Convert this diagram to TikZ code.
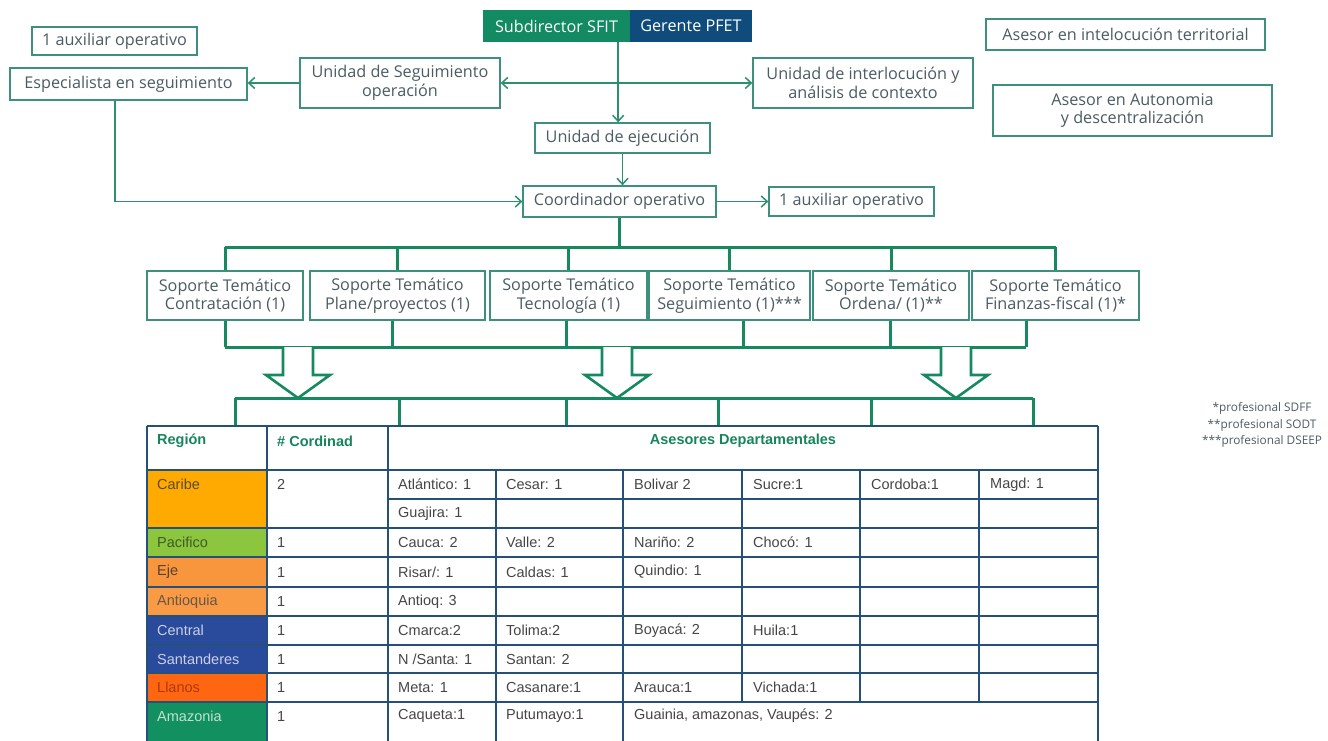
\documentclass[tikz,border=0pt]{standalone}
\usepackage{fontspec}
\setmainfont{Open Sans}
\newfontfamily\tablefont{Liberation Sans}
\usetikzlibrary{arrows.meta,calc}

% palette
\definecolor{boxline}{HTML}{3E8F7B}
\definecolor{boxtext}{HTML}{4B5C62}
\definecolor{linkgreen}{HTML}{2A9070}
\definecolor{busgreen}{HTML}{17895F}
\definecolor{sfitgreen}{HTML}{128A62}
\definecolor{pfetblue}{HTML}{0F4C7C}
\definecolor{gridblue}{HTML}{24507A}
\definecolor{headgreen}{HTML}{17855C}
\definecolor{celltext}{HTML}{454545}
\definecolor{caribe}{HTML}{FFAA00}
\definecolor{pacifico}{HTML}{8CC63E}
\definecolor{eje}{HTML}{F7963C}
\definecolor{antioq}{HTML}{F99B45}
\definecolor{central}{HTML}{2A4B9B}
\definecolor{llanos}{HTML}{FF6611}
\definecolor{amaz}{HTML}{13905F}

\newcommand\bxfont{\fontsize{16.2}{18.5}\selectfont}
\newcommand\cellfont{\tablefont\fontsize{14.5}{16}\selectfont}
\newcommand\tc[4]{\node[cell] (#1) at (#2,#3) {#4};}

\begin{document}
\begin{tikzpicture}[x=1pt,y=-1pt,
  box/.style={draw=boxline, line width=1.3pt, fill=white, text=boxtext,
    font=\bxfont, align=center, inner sep=0pt},
  topcell/.style={text=white, font=\bxfont, inner sep=0pt,
    minimum height=32pt},
  link/.style={draw=linkgreen, line width=1.5pt},
  arr/.style={link, -{Straight Barb[length=6pt,width=11pt]}},
  dblarr/.style={link, {Straight Barb[length=6pt,width=11pt]}-{Straight Barb[length=6pt,width=11pt]}},
  bus/.style={draw=busgreen, line width=3pt},
  blk/.style={draw=busgreen, line width=2.6pt, fill=white, line join=miter},
  grid/.style={draw=gridblue, line width=1.3pt},
  cell/.style={anchor=west, font=\cellfont, text=celltext, inner sep=0pt},
  head/.style={cell, font=\cellfont\bfseries, text=headgreen},
  blockdown/.pic={\draw[blk] (-15,0) -- (-15,28) -- (-32,28) -- (0,51)
    -- (32,28) -- (15,28) -- (15,0);}
]
\useasboundingbox (0,0) rectangle (1328,740);
\clip (0,0) rectangle (1328,740);

% ---------- upper organisation chart ----------
\node[topcell, fill=sfitgreen, minimum width=147pt] (sub) at (556.5,26) {Subdirector SFIT};
\node[topcell, fill=pfetblue, minimum width=122pt] (ger) at (691,26) {Gerente PFET};

\node[box, minimum width=165pt, minimum height=28pt] (aux1) at (114.5,41) {1 auxiliar operativo};
\node[box, minimum width=237pt, minimum height=32pt] (esp) at (128.5,84) {Especialista en seguimiento};
\node[box, minimum width=200pt, minimum height=50pt] (useg) at (400,83) {Unidad de Seguimiento\\operación};
\node[box, minimum width=220pt, minimum height=50pt] (uint) at (863,83) {Unidad de interlocución y\\análisis de contexto};
\node[box, minimum width=175pt, minimum height=30pt] (ejec) at (622.5,138) {Unidad de ejecución};
\node[box, minimum width=193pt, minimum height=31pt] (coord) at (619.5,201.5) {Coordinador operativo};
\node[box, minimum width=165pt, minimum height=29pt] (aux2) at (851.5,201.5) {1 auxiliar operativo};
\node[box, minimum width=279pt, minimum height=31pt] (ases1) at (1125.5,34.5) {Asesor en intelocución territorial};
\node[box, minimum width=279pt, minimum height=51pt] (ases2) at (1132.5,110.5) {Asesor en Autonomia\\y descentralización};

\coordinate (drop) at ($(sub.south east)+(-12,0)$);
\draw[arr] (drop) -- (drop |- ejec.north);
\draw[dblarr] (useg.east) -- (uint.west);
\draw[arr] (useg.west) -- (useg.west -| esp.east);
\draw[arr] (ejec.south) -- (ejec.south |- coord.north);
\draw[arr] ([xshift=-13.5pt]esp.south) |- (coord.west);
\draw[arr] (coord.east) -- (coord.east -| aux2.west);

% ---------- thematic support row ----------
\node[box, minimum width=156pt, minimum height=49pt] (s1) at (225,295.5) {Soporte Temático\\Contratación (1)};
\node[box, minimum width=175pt, minimum height=49pt] (s2) at (397.5,295.5) {Soporte Temático\\Plane/proyectos (1)};
\node[box, minimum width=157pt, minimum height=49pt] (s3) at (568.5,295.5) {Soporte Temático\\Tecnología (1)};
\node[box, minimum width=161pt, minimum height=49pt] (s4) at (729.5,295.5) {Soporte Temático\\Seguimiento (1)***};
\node[box, minimum width=156pt, minimum height=49pt] (s5) at (891,295.5) {Soporte Temático\\Ordena/ (1)**};
\node[box, minimum width=167pt, minimum height=49pt] (s6) at (1055.5,295.5) {Soporte Temático\\Finanzas-fiscal (1)*};

\coordinate (busA) at (0,247);
\coordinate (busB) at (0,347);

% bus above the support boxes
\draw[bus] (s1.north |- busA) -- (s6.north |- busA);
\draw[bus] (coord.south) -- (coord.south |- busA);
\foreach \s in {s1,s2,s3,s4,s5,s6}
  \draw[bus] (\s.north |- busA) -- (\s.north);

% bus below the support boxes
\draw[bus] (s1.south |- busB) -- ([xshift=-29.5pt]s6.south |- busB);
\foreach \s/\dx in {s1/0,s2/-5.5,s3/-2.5,s4/13.5,s5/-1,s6/-29.5}
  \draw[bus] ([xshift=\dx pt]\s.south) -- ([xshift=\dx pt]\s.south |- busB);

% hollow arrows down to the table
\pic (ba1) at (298,347) {blockdown};
\pic (ba2) at (617,347) {blockdown};
\pic (ba3) at (956,347) {blockdown};

% bus over the table
\coordinate (cl) at (235,398);
\coordinate (cr) at (1033,398);
\draw[bus] (cl) -- (cr);
\foreach \x in {235,399,566,718,871,1033}
  \draw[bus] (\x,398) -- (\x,426);

% ---------- footnotes ----------
\node[align=center, text=boxtext, font=\fontsize{11.8}{16.5}\selectfont, inner sep=0pt]
  (notes) at (1262,425) {*profesional SDFF\\**profesional SODT\\***profesional DSEEP};

% ---------- regional table ----------
\fill[caribe]   (147,470) rectangle (267,528);
\fill[pacifico] (147,528) rectangle (267,557);
\fill[eje]      (147,557) rectangle (267,587);
\fill[antioq]   (147,587) rectangle (267,616);
\fill[central]  (147,616) rectangle (267,673);
\fill[llanos]   (147,673) rectangle (267,702);
\fill[amaz]     (147,702) rectangle (267,745);

\foreach \y in {426,470,528,557,587,616,645,673,702}
  \draw[grid] (147,\y) -- (1098,\y);
\draw[grid] (388,499) -- (1098,499);
\foreach \x in {147,267,388,1098}
  \draw[grid] (\x,426) -- (\x,745);
\foreach \x in {496,623}
  \draw[grid] (\x,470) -- (\x,745);
\foreach \x in {742,860,979}
  \draw[grid] (\x,470) -- (\x,702);

\node[head] (hreg) at (157,441) {Región};
\node[head] (hcor) at (277,441) {\# Cordinad};
\node[head, anchor=center] (hase) at (743,441) {Asesores Departamentales};

\tc{rcar}{157}{484.5}{\textcolor[HTML]{5A4A30}{Caribe}}
\tc{ncar}{277}{484.5}{2}
\tc{atl}{398}{484.5}{Atlántico: 1}
\tc{ces}{506}{484.5}{Cesar: 1}
\tc{bol}{634}{484.5}{Bolivar 2}
\tc{suc}{753}{484.5}{Sucre:1}
\tc{cor}{871}{484.5}{Cordoba:1}
\tc{mag}{990}{484.5}{Magd: 1}
\tc{gua}{398}{513.5}{Guajira: 1}

\tc{rpac}{157}{542.5}{\textcolor[HTML]{3F5A2A}{Pacifico}}
\tc{npac}{277}{542.5}{1}
\tc{cau}{398}{542.5}{Cauca: 2}
\tc{val}{506}{542.5}{Valle: 2}
\tc{nar}{634}{542.5}{Nariño: 2}
\tc{cho}{753}{542.5}{Chocó: 1}

\tc{reje}{157}{572}{\textcolor[HTML]{5A4030}{Eje}}
\tc{neje}{277}{572}{1}
\tc{ris}{398}{572}{Risar/: 1}
\tc{cal}{506}{572}{Caldas: 1}
\tc{qui}{634}{572}{Quindio: 1}

\tc{rant}{157}{601.5}{\textcolor[HTML]{6A5548}{Antioquia}}
\tc{nant}{277}{601.5}{1}
\tc{ant}{398}{601.5}{Antioq: 3}

\tc{rcen}{157}{630.5}{\textcolor[HTML]{C8D0E8}{Central}}
\tc{ncen}{277}{630.5}{1}
\tc{cma}{398}{630.5}{Cmarca:2}
\tc{tol}{506}{630.5}{Tolima:2}
\tc{boy}{634}{630.5}{Boyacá: 2}
\tc{hui}{753}{630.5}{Huila:1}

\tc{rsan}{157}{659}{\textcolor[HTML]{C8D0E8}{Santanderes}}
\tc{nsan}{277}{659}{1}
\tc{nsa}{398}{659}{N /Santa: 1}
\tc{ssa}{506}{659}{Santan: 2}

\tc{rlla}{157}{687.5}{\textcolor[HTML]{B0380C}{Llanos}}
\tc{nlla}{277}{687.5}{1}
\tc{met}{398}{687.5}{Meta: 1}
\tc{cas}{506}{687.5}{Casanare:1}
\tc{ara}{634}{687.5}{Arauca:1}
\tc{vic}{753}{687.5}{Vichada:1}

\tc{rama}{157}{716}{\textcolor[HTML]{C0E0D0}{Amazonia}}
\tc{nama}{277}{716}{1}
\tc{caq}{398}{716}{Caqueta:1}
\tc{put}{506}{716}{Putumayo:1}
\tc{gui}{634}{716}{Guainia, amazonas, Vaupés: 2}
\end{tikzpicture}
\end{document}
